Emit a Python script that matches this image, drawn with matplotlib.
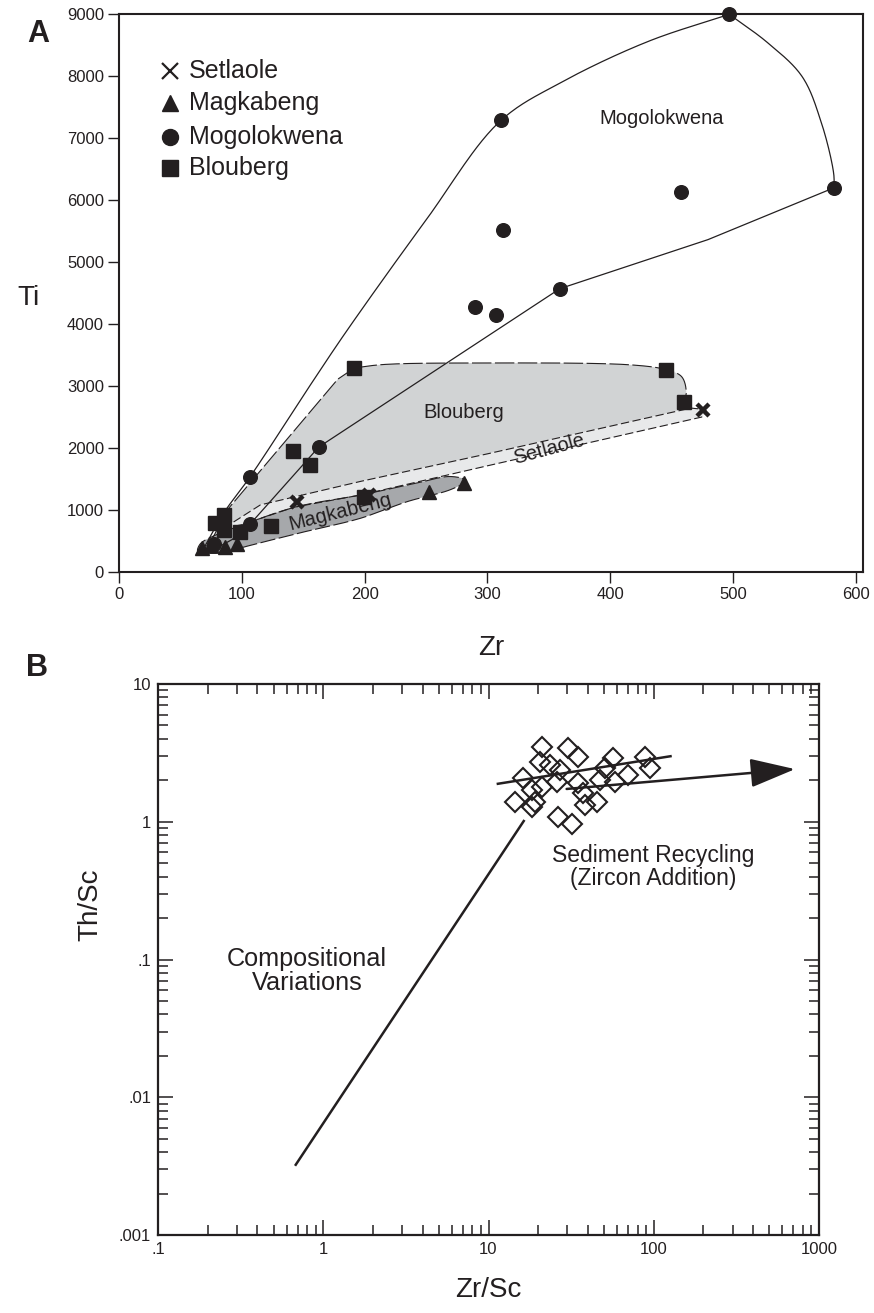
import numpy as np
import matplotlib
matplotlib.use('Agg')
import matplotlib.pyplot as plt
from matplotlib.patches import Polygon
from matplotlib.ticker import FixedLocator, FixedFormatter, LogLocator, NullFormatter

plt.rcParams['font.family'] = ['Liberation Sans', 'DejaVu Sans']
plt.rcParams['lines.scale_dashes'] = False
INK = '#231f20'

# ---------------- Panel A data (Zr vs Ti) ----------------
setlaole_zr = [475.6, 144.9, 203.4]
setlaole_ti = [2604, 1132, 1240]
magkabeng_zr = [67, 75, 86, 96, 252.5, 281]
magkabeng_ti = [378, 430, 404, 448, 1294, 1430]
mogolokwena_zr = [497, 582.5, 311, 458, 312.6, 359, 290, 307, 162.5, 106.7, 106.7, 76.8]
mogolokwena_ti = [9000, 6200, 7287, 6130, 5510, 4570, 4280, 4140, 2012, 1536, 771, 448]
blouberg_zr = [191.6, 445.6, 460, 141.6, 155.7, 199.3, 123.6, 98.6, 85, 78, 85]
blouberg_ti = [3290, 3262, 2740, 1941, 1726, 1213, 739, 647, 917, 783, 674]

# field envelopes (data units)
mog_upper_zr = [70, 85, 106.7, 158.7, 186, 250, 311, 360, 430.7, 497]
mog_upper_ti = [420, 945, 1536, 3105, 3908, 5680, 7287, 7900, 8560, 9000]
mog_cap_zr = [497, 528, 556, 572, 582, 582.5]
mog_cap_ti = [9000, 8546, 8006, 7254, 6446, 6200]
mog_lower_zr = [582.5, 479.7, 359, 162.5, 106.7, 92, 80, 70]
mog_lower_ti = [6200, 5362, 4570, 2012, 771, 520, 390, 420]

set_upper_zr = [85, 115, 197, 300, 466]
set_upper_ti = [700, 1079, 1460, 1903, 2643]
set_tip_zr = [466, 478, 474.6]
set_tip_ti = [2643, 2600, 2497]
set_lower_zr = [474.6, 300, 197, 142, 100, 85]
set_lower_ti = [2497, 1710, 1240, 1040, 760, 700]

blo_left_zr = [75, 88, 178, 191.6]
blo_left_ti = [500, 998, 3108, 3290]
blo_top_zr = [191.6, 215, 297, 418, 445.6, 458, 462, 460, 466]
blo_top_ti = [3290, 3345, 3370, 3338, 3262, 3154, 2885, 2740, 2643]

mag_env_zr = [64, 66, 75, 104, 145, 197, 240, 270, 283, 270, 234.7, 196.6, 150, 100, 85, 70]
mag_env_ti = [320, 450, 560, 783, 1051, 1240, 1420, 1537, 1470, 1326, 1132, 863, 640, 390, 305, 300]

xticks_a = [0, 100, 200, 300, 400, 500, 600]
yticks_a = [0, 1000, 2000, 3000, 4000, 5000, 6000, 7000, 8000, 9000]
legend_labels = ['Setlaole', 'Magkabeng', 'Mogolokwena', 'Blouberg']

# ---------------- Panel B data (Zr/Sc vs Th/Sc) ----------------
zr_sc = [21.0, 30.4, 34.9, 20.5, 23.6, 27.1, 16.2, 18.3, 14.5, 19.1, 21.0, 25.9, 34.9,
         37.5, 45.2, 26.4, 31.9, 56.9, 50.7, 47.3, 58.3, 70.2, 88.5, 94.9, 38.4, 18.3]
th_sc = [3.51, 3.41, 2.97, 2.73, 2.58, 2.37, 2.07, 1.70, 1.40, 1.40, 1.80, 1.95, 1.90,
         1.61, 1.40, 1.09, 0.97, 2.89, 2.44, 2.01, 1.95, 2.18, 2.97, 2.44, 1.32, 1.28]
trend_zr = [11.2, 128.5]
trend_th = [1.88, 3.0]
recyc_zr = [29.7, 716]
recyc_th = [1.73, 2.41]
comp_zr = [0.675, 16.5]
comp_th = [0.00318, 1.03]

xticks_b = [0.1, 1, 10, 100, 1000]
xlabels_b = ['.1', '1', '10', '100', '1000']
yticks_b = [0.001, 0.01, 0.1, 1, 10]
ylabels_b = ['.001', '.01', '.1', '1', '10']


def catmull(xs, ys, sx=1.0, sy=1.0, n=30, closed=False):
    P = np.column_stack([np.asarray(xs, float) / sx, np.asarray(ys, float) / sy])
    if closed:
        Q = np.vstack([P[-1], P, P[0], P[1]])
    else:
        Q = np.vstack([2 * P[0] - P[1], P, 2 * P[-1] - P[-2]])
    out = []
    for i in range(1, len(Q) - 2):
        p0, p1, p2, p3 = Q[i - 1], Q[i], Q[i + 1], Q[i + 2]
        def tj(ti, a, b):
            return ti + max(np.linalg.norm(b - a), 1e-9) ** 0.5
        t0 = 0.0
        t1 = tj(t0, p0, p1)
        t2 = tj(t1, p1, p2)
        t3 = tj(t2, p2, p3)
        t = np.linspace(t1, t2, n)[:, None]
        A1 = (t1 - t) / (t1 - t0) * p0 + (t - t0) / (t1 - t0) * p1
        A2 = (t2 - t) / (t2 - t1) * p1 + (t - t1) / (t2 - t1) * p2
        A3 = (t3 - t) / (t3 - t2) * p2 + (t - t2) / (t3 - t2) * p3
        B1 = (t2 - t) / (t2 - t0) * A1 + (t - t0) / (t2 - t0) * A2
        B2 = (t3 - t) / (t3 - t1) * A2 + (t - t1) / (t3 - t1) * A3
        C = (t2 - t) / (t2 - t1) * B1 + (t - t1) / (t2 - t1) * B2
        out.append(C if i == len(Q) - 3 else C[:-1])
    C = np.vstack(out)
    return C[:, 0] * sx, C[:, 1] * sy


fig = plt.figure(figsize=(8.74, 13.13), dpi=100)

# ================= Panel A =================
axA = fig.add_axes([119.3 / 874, 1 - 571.7 / 1313, 743.7 / 874, 557.4 / 1313])
SX, SY = 600.0, 9000.0

# Blouberg field
lx, ly = np.asarray(blo_left_zr, float), np.asarray(blo_left_ti, float)
tx, ty = catmull(blo_top_zr, blo_top_ti, SX, SY)
ux, uy = np.asarray(set_upper_zr, float)[::-1], np.asarray(set_upper_ti, float)[::-1]
bx = np.concatenate([lx, tx[1:], ux[1:]])
by = np.concatenate([ly, ty[1:], uy[1:]])
axA.add_patch(Polygon(np.column_stack([bx, by]), closed=True, fc='#d1d3d4', ec='none', zorder=1))
axA.plot(np.concatenate([lx, tx[1:]]), np.concatenate([ly, ty[1:]]), color=INK, lw=0.8,
         dashes=(14, 2.5), zorder=2)

# Setlaole field
tpx, tpy = catmull(set_tip_zr, set_tip_ti, SX, SY)
sx_ = np.concatenate([set_upper_zr, tpx[1:-1], set_lower_zr])
sy_ = np.concatenate([set_upper_ti, tpy[1:-1], set_lower_ti])
axA.add_patch(Polygon(np.column_stack([sx_, sy_]), closed=True, fc='#e8e9ea', ec='none', zorder=1.1))
axA.plot(sx_, sy_, color=INK, lw=0.8, dashes=(6, 2.5), zorder=2)

# Magkabeng field
mx, my = catmull(mag_env_zr, mag_env_ti, SX, SY, closed=True)
axA.add_patch(Polygon(np.column_stack([mx, my]), closed=True, fc='#a6a8ab', ec='none', zorder=1.2))
axA.plot(np.append(mx, mx[0]), np.append(my, my[0]), color=INK, lw=0.8, dashes=(11, 2.5), zorder=2)

# Mogolokwena envelope
for zx, zy in [(mog_upper_zr, mog_upper_ti), (mog_cap_zr, mog_cap_ti)]:
    cx, cy = catmull(zx, zy, SX, SY)
    axA.plot(cx, cy, color=INK, lw=0.9, zorder=2.1, clip_on=False)
axA.plot(mog_lower_zr, mog_lower_ti, color=INK, lw=0.9, zorder=2.1)

# points
axA.plot(blouberg_zr, blouberg_ti, 's', ms=10, color=INK, mec=INK, zorder=3, clip_on=False)
axA.plot(mogolokwena_zr, mogolokwena_ti, 'o', ms=9.8, color=INK, zorder=3, clip_on=False)
axA.plot(magkabeng_zr, magkabeng_ti, '^', ms=9.5, color=INK, zorder=3.1, clip_on=False)
axA.plot(setlaole_zr, setlaole_ti, 'x', ms=9, mew=3.2, color=INK, zorder=3.2, clip_on=False)

# field labels
axA.text(441.7, 7310, 'Mogolokwena', fontsize=14.5, color=INK, ha='center', va='center', zorder=4)
axA.text(281, 2572, 'Blouberg', fontsize=14.5, color=INK, ha='center', va='center', zorder=4)
axA.text(350, 1975, 'Setlaole', fontsize=14.5, color=INK, ha='center', va='center',
         rotation=15, rotation_mode='anchor', zorder=4)
axA.text(180, 965, 'Magkabeng', fontsize=14.5, color=INK, ha='center', va='center',
         rotation=14, rotation_mode='anchor', zorder=4)

# legend (manual)
leg_marks = [dict(marker='x', ms=12, mew=1.6), dict(marker='^', ms=12),
             dict(marker='o', ms=11.5), dict(marker='s', ms=11.5)]
leg_y = [0.8983, 0.8409, 0.7799, 0.7243]
for lab, mk, yy in zip(legend_labels, leg_marks, leg_y):
    axA.plot([0.0682], [yy], color=INK, linestyle='none', transform=axA.transAxes, **mk)
    axA.text(0.0939, yy, lab, transform=axA.transAxes, fontsize=18, color=INK,
             ha='left', va='center')

axA.set_xlim(0, 606)
axA.set_ylim(0, 9000)
axA.set_xticks(xticks_a)
axA.set_yticks(yticks_a)
axA.tick_params(direction='out', length=8, width=1, labelsize=12, colors=INK, pad=3,
                top=False, right=False)
for sp in axA.spines.values():
    sp.set_linewidth(1.5)
    sp.set_color(INK)

fig.text(28 / 874, 1 - 298 / 1313, 'Ti', fontsize=20, color=INK, ha='center', va='center')
fig.text(491 / 874, 1 - 648 / 1313, 'Zr', fontsize=20, color=INK, ha='center', va='center')
fig.text(38 / 874, 1 - 34 / 1313, 'A', fontsize=22, fontweight='bold', color=INK,
         ha='center', va='center')

# ================= Panel B =================
axB = fig.add_axes([158 / 874, 1 - 1235 / 1313, 661 / 874, 551 / 1313])
axB.set_xscale('log')
axB.set_yscale('log')

axB.plot(comp_zr, comp_th, color=INK, lw=1.8, solid_capstyle='butt', zorder=2)
axB.plot(trend_zr, trend_th, color=INK, lw=1.8, solid_capstyle='butt', zorder=2)
axB.annotate('', xy=(recyc_zr[1], recyc_th[1]), xytext=(recyc_zr[0], recyc_th[0]),
             arrowprops=dict(arrowstyle='-|>,head_length=1.4,head_width=0.45', lw=1.8,
                             color=INK, mutation_scale=20, shrinkA=0, shrinkB=0), zorder=2)
axB.plot(zr_sc, th_sc, 'D', ms=10, mfc='none', mec=INK, mew=1.5, linestyle='none', zorder=3)

axB.text(0.80, 0.0826, 'Compositional\nVariations', fontsize=18.2, color=INK,
         ha='center', va='center', linespacing=1.0)
axB.text(99, 0.47, 'Sediment Recycling\n(Zircon Addition)', fontsize=16.5, color=INK,
         ha='center', va='center', linespacing=1.0)

axB.set_xlim(0.1, 1000)
axB.set_ylim(0.001, 10)
axB.xaxis.set_major_locator(FixedLocator(xticks_b))
axB.xaxis.set_major_formatter(FixedFormatter(xlabels_b))
axB.yaxis.set_major_locator(FixedLocator(yticks_b))
axB.yaxis.set_major_formatter(FixedFormatter(ylabels_b))
for a in (axB.xaxis, axB.yaxis):
    a.set_minor_locator(LogLocator(base=10, subs=np.arange(2, 10)))
    a.set_minor_formatter(NullFormatter())
axB.tick_params(which='both', direction='in', top=True, right=True, colors=INK,
                labelsize=12, width=1.1)
axB.tick_params(which='major', length=11, pad=5)
axB.tick_params(which='minor', length=7)
for sp in axB.spines.values():
    sp.set_linewidth(1.6)
    sp.set_color(INK)

fig.text(90 / 874, 1 - 905 / 1313, 'Th/Sc', fontsize=20, color=INK, ha='center',
         va='center', rotation=90)
fig.text(488 / 874, 1 - 1290 / 1313, 'Zr/Sc', fontsize=20, color=INK, ha='center', va='center')
fig.text(37 / 874, 1 - 668 / 1313, 'B', fontsize=22, fontweight='bold', color=INK,
         ha='center', va='center')

fig.savefig('out.png', dpi=100)
